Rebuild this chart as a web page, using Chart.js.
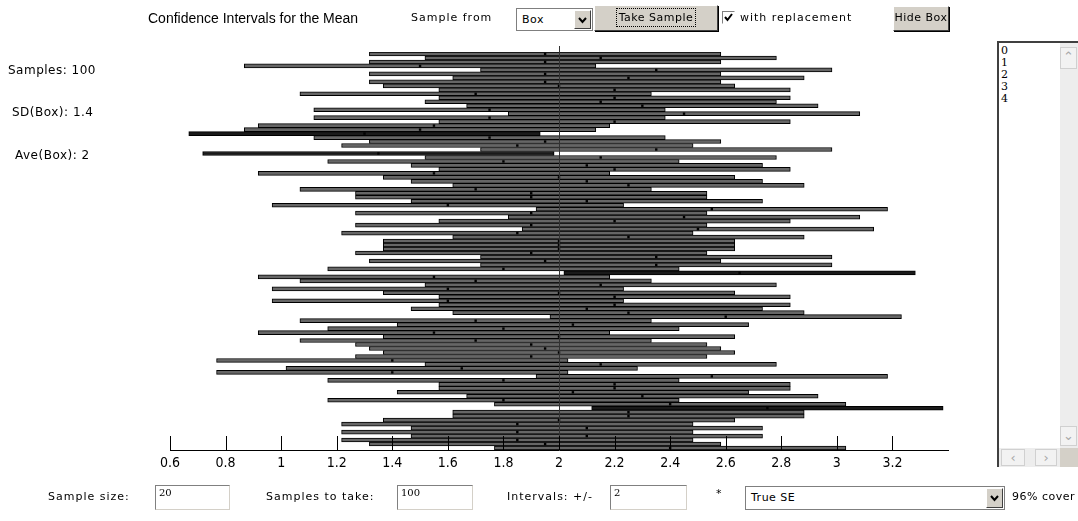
<!DOCTYPE html>
<html>
<head>
<meta charset="utf-8">
<title>Confidence Intervals for the Mean</title>
<script src="https://cdn.jsdelivr.net/npm/chart.js@4.4.1/dist/chart.umd.min.js"></script>
<style>
  html, body { margin: 0; padding: 0; background: #fff; }
  #page { position: relative; width: 1078px; height: 521px; overflow: hidden;
          font-family: "DejaVu Sans", sans-serif; color: #000; }
  #page canvas { position: absolute; left: 0; top: 0; }
  .txt { position: absolute; white-space: nowrap; font-size: 11px; line-height: 14px; letter-spacing: 1px; }
  .side { font-size: 12px; letter-spacing: 0.5px; }
  .title { font-family: "Liberation Sans", Arial, sans-serif; font-size: 14px; line-height: 18px; letter-spacing: 0; }
  .field { position: absolute; box-sizing: border-box; background: #fff;
           border: 1px solid #808080; border-right-color: #d4d0c8; border-bottom-color: #d4d0c8;
           font-family: "DejaVu Serif", serif; font-size: 10px; line-height: 12px; padding: 1px 3px; }
  .choice { position: absolute; box-sizing: border-box; background: #fff; border: 1px solid #7f7f7f;
            font-size: 11px; line-height: 21px; padding-left: 5px; letter-spacing: 0.5px; }
  .choice .arrow { position: absolute; right: 1px; top: 1px; bottom: 1px; width: 17px;
                   background: #d4d0c8; border: 1px solid; border-color: #fff #404040 #404040 #fff;
                   box-sizing: border-box; }
  .choice .arrow svg { position: absolute; left: 3px; top: 6px; }
  .btn { position: absolute; box-sizing: border-box; background: #d4d0c8; border: 1px solid;
         border-color: #fff #404040 #404040 #fff; box-shadow: 1px 1px 0 #000;
         font-size: 11px; text-align: center; letter-spacing: 0.5px; }
  .btn.focus span { outline: 1px dotted #000; outline-offset: 2px; }
  .check { position: absolute; width: 13px; height: 13px; box-sizing: border-box; background: #fff;
           border: 1px solid; border-color: #808080 #fff #fff #808080; }
  #list { position: absolute; left: 997px; top: 41px; width: 81px; height: 426px; box-sizing: border-box;
          border-left: 2px solid #404040; border-top: 2px solid #404040; background: #fff; }
  #list .items { position: absolute; left: 2px; top: 2px; font-family: "DejaVu Serif", serif;
                 font-size: 11px; line-height: 12px; color: #000; }
  #list .vbar { position: absolute; right: 0; top: 0; width: 18px; bottom: 19px; background: #ededed; }
  #list .hbar { position: absolute; left: 0; right: 18px; bottom: 0; height: 19px; background: #ededed; }
  #list .corner { position: absolute; right: 0; bottom: 0; width: 18px; height: 19px; background: #d4d0c8; }
  #list .sb { position: absolute; box-sizing: border-box; background: #f2f2f2;
              border: 1px solid #d0d0d0; color: #a8a8a8; font-size: 13px; line-height: 18px; text-align: center; }
</style>
</head>
<body>
<div id="page">
  <canvas id="ciChart" width="1078" height="521"></canvas>

  <div class="txt title" style="left:148px; top:9px;">Confidence Intervals for the Mean</div>
  <div class="txt" style="left:411px; top:11px;">Sample from</div>
  <div class="choice" style="left:516px; top:8px; width:77px; height:23px;">Box
    <div class="arrow"><svg width="9" height="7"><path d="M1 1 L4.5 5 L8 1" stroke="#000" stroke-width="2" fill="none"/></svg></div>
  </div>
  <div class="btn focus" style="left:594px; top:5px; width:124px; height:26px; line-height:23px;"><span>Take Sample</span></div>
  <div class="check" style="left:722px; top:11px;"><svg width="11" height="11" style="position:absolute;left:0;top:0"><path d="M2 5 L4.5 8 L9 2" stroke="#000" stroke-width="2" fill="none"/></svg></div>
  <div class="txt" style="left:740px; top:11px;">with replacement</div>
  <div class="btn" style="left:893px; top:6px; width:56px; height:25px; line-height:22px;">Hide Box</div>

  <div class="txt side" style="left:8px; top:63px;">Samples: 100</div>
  <div class="txt side" style="left:12px; top:105px;">SD(Box): 1.4</div>
  <div class="txt side" style="left:15px; top:148px;">Ave(Box): 2</div>

  <div id="list">
    <div class="items" id="boxItems"></div>
    <div class="vbar">
      <div class="sb" style="left:0; top:4px; width:17px; height:22px;">&#8963;</div>
      <div class="sb" style="left:0; bottom:2px; width:17px; height:20px;">&#8964;</div>
    </div>
    <div class="hbar">
      <div class="sb" style="left:2px; top:1px; width:24px; height:17px; line-height:15px;">&lsaquo;</div>
      <div class="sb" style="left:36px; top:1px; width:22px; height:17px; line-height:15px;">&rsaquo;</div>
    </div>
    <div class="corner"></div>
  </div>

  <div class="txt" style="left:48px; top:490px;">Sample size:</div>
  <div class="field" style="left:155px; top:485px; width:75px; height:25px;">20</div>
  <div class="txt" style="left:266px; top:490px;">Samples to take:</div>
  <div class="field" style="left:397px; top:485px; width:76px; height:25px;">100</div>
  <div class="txt" style="left:507px; top:490px;">Intervals: +/-</div>
  <div class="field" style="left:610px; top:485px; width:77px; height:25px;">2</div>
  <div class="txt" style="left:716px; top:487px;">*</div>
  <div class="choice" style="left:745px; top:486px; width:260px; height:24px;">True SE
    <div class="arrow"><svg width="9" height="7"><path d="M1 1 L4.5 5 L8 1" stroke="#000" stroke-width="2" fill="none"/></svg></div>
  </div>
  <div class="txt" style="left:1012px; top:490px; letter-spacing:0.5px;">96% cover</div>
</div>

<script>
    'use strict';

    // tickets in the box
    const boxTickets = ['0', '1', '2', '3', '4'];
    const boxAverage = 2;
    const boxSD = 1.4142;
    const sampleSize = 20;
    const seMultiplier = 2;

    // sample averages, top row first
    const sampleMeans = [
        1.95, 2.15, 1.95, 1.50, 2.35, 1.95, 2.25, 1.95, 2.00, 2.20,
        1.70, 2.20, 2.15, 2.30, 1.75, 2.45, 1.75, 2.20, 1.55, 1.50,
        1.30, 1.75, 1.95, 1.85, 2.35, 1.35, 2.15, 1.80, 2.10, 2.20,
        1.55, 2.00, 2.10, 2.25, 1.70, 1.90, 1.90, 2.10, 1.60, 2.55,
        1.90, 2.45, 2.20, 1.90, 2.50, 1.85, 2.25, 2.00, 2.00, 2.00,
        1.90, 2.35, 1.95, 2.35, 1.80, 2.65, 1.55, 1.70, 2.15, 1.60,
        2.00, 2.20, 1.60, 2.20, 2.10, 2.25, 2.60, 1.70, 2.05, 1.80,
        1.55, 2.00, 1.70, 1.90, 1.95, 2.00, 1.90, 1.40, 2.15, 1.65,
        1.40, 2.55, 1.80, 2.20, 2.20, 2.05, 2.30, 1.80, 2.40, 2.75,
        2.25, 2.25, 2.00, 1.85, 2.10, 1.85, 2.10, 1.85, 1.95, 2.40
    ];
    const sampleIds = sampleMeans.map((m, i) => String(i + 1));

    const tickValues = [0.6, 0.8, 1, 1.2, 1.4, 1.6, 1.8, 2, 2.2, 2.4, 2.6, 2.8, 3, 3.2];
    const xMin = 0.6;
    const xMax = 3.4;

    const halfWidth = seMultiplier * boxSD / Math.sqrt(sampleSize);
    const intervals = sampleMeans.map(m => [m - halfWidth, m + halfWidth]);
    const covers = intervals.map(iv => iv[0] <= boxAverage && iv[1] >= boxAverage);

    document.getElementById('boxItems').innerHTML = boxTickets.map(t => '<div>' + t + '</div>').join('');

    // vertical line at the box average
    const meanLine = {
        id: 'meanLine',
        afterDatasetsDraw(chart) {
            const { ctx, chartArea, scales } = chart;
            const x = Math.round(scales.x.getPixelForValue(boxAverage)) + 0.5;
            ctx.save();
            ctx.strokeStyle = '#333';
            ctx.lineWidth = 1;
            ctx.beginPath();
            ctx.moveTo(x, chartArea.top - 6);
            ctx.lineTo(x, chartArea.bottom);
            ctx.stroke();
            ctx.restore();
        }
    };

    // tick marks stand up from the axis line
    const upTicks = {
        id: 'upTicks',
        afterDraw(chart) {
            const { ctx, chartArea, scales } = chart;
            ctx.save();
            ctx.strokeStyle = '#000';
            ctx.lineWidth = 1;
            scales.x.ticks.forEach(t => {
                const x = Math.round(scales.x.getPixelForValue(t.value)) + 0.5;
                ctx.beginPath();
                ctx.moveTo(x, chartArea.bottom - 14);
                ctx.lineTo(x, chartArea.bottom);
                ctx.stroke();
            });
            ctx.restore();
        }
    };

    new Chart(document.getElementById('ciChart'), {
        type: 'bar',
        data: {
            labels: sampleIds,
            datasets: [{
                type: 'line',
                data: sampleMeans.map((m, i) => ({ x: m, y: sampleIds[i] })),
                showLine: false,
                pointStyle: 'rect',
                pointRadius: 1.7,
                pointBorderWidth: 0,
                pointBackgroundColor: '#000',
                order: 0
            }, {
                data: intervals,
                backgroundColor: covers.map(c => c ? '#666666' : '#1a1a1a'),
                borderColor: '#000',
                borderWidth: 1,
                borderSkipped: false,
                barPercentage: 1,
                categoryPercentage: 1,
                order: 1
            }]
        },
        options: {
            indexAxis: 'y',
            responsive: false,
            animation: false,
            layout: { padding: { left: 170, right: 130, top: 52, bottom: 47 } },
            plugins: { legend: { display: false }, tooltip: { enabled: false } },
            scales: {
                x: {
                    type: 'linear',
                    min: xMin,
                    max: xMax,
                    afterBuildTicks(scale) {
                        scale.ticks = tickValues.map(v => ({ value: v }));
                    },
                    afterFit(scale) {
                        scale.height = 24;
                    },
                    grid: { display: false, drawTicks: false },
                    border: { display: true, color: '#000', width: 1 },
                    ticks: {
                        color: '#000',
                        padding: 5,
                        maxRotation: 0,
                        autoSkip: false,
                        font: { family: '"DejaVu Sans Condensed", "Liberation Sans", sans-serif', size: 14 },
                        callback: v => String(Math.round(v * 10) / 10)
                    }
                },
                y: {
                    type: 'category',
                    display: false
                }
            }
        },
        plugins: [meanLine, upTicks]
    });
</script>
</body>
</html>
